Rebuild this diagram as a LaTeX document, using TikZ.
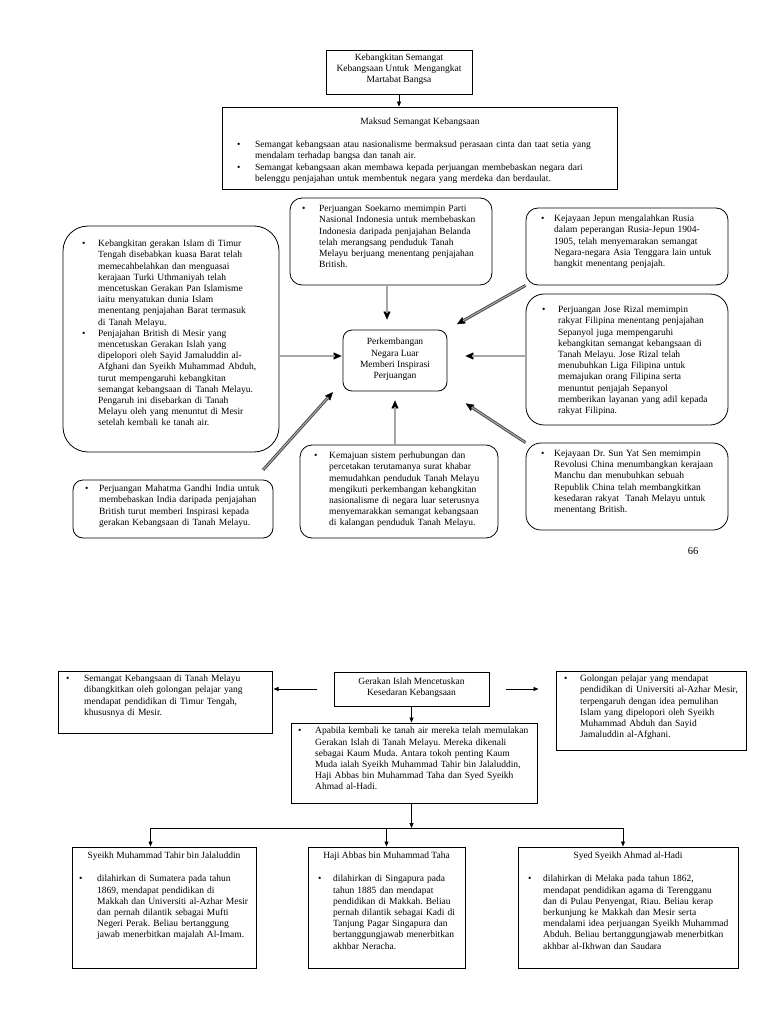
\documentclass[tikz,border=0pt]{standalone}
\usepackage{fontspec}
\setmainfont{Liberation Serif}
\usetikzlibrary{arrows.meta,calc}
\frenchspacing
\newcommand\fs{\fontsize{9.5pt}{11.2pt}\selectfont}
\newcommand\bu{\leavevmode\llap{\makebox[\leftskip][l]{\textbullet}}}
\tikzset{
  bx/.style={draw=black, line width=0.8pt, inner sep=0pt},
  bxb/.style={draw=black, line width=1pt, inner sep=0pt},
  bt/.style={anchor=north west, inner sep=0pt, text width=430pt, align=left, font=\fs},
  ct/.style={align=center, inner sep=0pt, font=\fs},
  dblshaft/.style={draw=black!75, line width=0.85pt, double=black!35, double distance=1.2pt},
  dbltip/.style={draw=black, line width=0.4pt, -{Triangle[length=8pt,width=7pt]}},
  thinarr/.style={draw=black, line width=0.8pt, -{Triangle[length=5pt,width=4pt]}},
}
% double arrow: start shorten, end shorten, shaft end shorten, from, to
\newcommand\dar[5]{%
  \draw[dbltip, shorten <=#1, shorten >=#2] #4 -- #5;
  \draw[dblshaft, shorten <=#1, shorten >=#3] #4 -- #5;}
\begin{document}
\begin{tikzpicture}[x=1pt, y=-1pt]
\fill[white] (0,0) rectangle (768,1024);
\useasboundingbox (0,0) rectangle (768,1024);

% ---------- top half ----------
\node[bx, minimum width=146pt, minimum height=44pt] (title) at (399,72) {};
\node[ct] (titlet) at (399,69) {Kebangkitan Semangat\\Kebangsaan Untuk~ Mengangkat\\Martabat Bangsa};

\node[bx, minimum width=395pt, minimum height=82pt] (maksud) at (419.5,148) {};
\node[ct] (maksudh) at (420,122) {Maksud Semangat Kebangsaan};
\node[bt] (maksudt) at (237,141) {\leftskip=18pt \bu Semangat kebangsaan atau nasionalisme bermaksud perasaan cinta dan taat setia yang\\mendalam terhadap bangsa dan tanah air.\\ \bu Semangat kebangsaan akan membawa kepada perjuangan membebaskan negara dari\\belenggu penjajahan untuk membentuk negara yang merdeka dan berdaulat.\par};

\node[bx, rounded corners=25pt, minimum width=216pt, minimum height=226pt] (lbox) at (171,339) {};
\node[bt] (lboxt) at (82,240) {\leftskip=16pt \bu Kebangkitan gerakan Islam di Timur\\Tengah disebabkan kuasa Barat telah\\memecahbelahkan dan menguasai\\kerajaan Turki Uthmaniyah telah\\mencetuskan Gerakan Pan Islamisme\\iaitu menyatukan dunia Islam\\menentang penjajahan Barat termasuk\\di Tanah Melayu.\\ \bu Penjajahan British di Mesir yang\\mencetuskan Gerakan Islah yang\\dipelopori oleh Sayid Jamaluddin al-\\Afghani dan Syeikh Muhammad Abduh,\\turut mempengaruhi kebangkitan\\semangat kebangsaan di Tanah Melayu.\\Pengaruh ini disebarkan di Tanah\\Melayu oleh yang menuntut di Mesir\\setelah kembali ke tanah air.\par};

\node[bx, rounded corners=12pt, minimum width=202pt, minimum height=87pt] (soek) at (391,241.5) {};
\node[bt] (soekt) at (302,205) {\leftskip=17pt \bu Perjuangan Soekarno memimpin Parti\\Nasional Indonesia untuk membebaskan\\Indonesia daripada penjajahan Belanda\\telah merangsang penduduk Tanah\\Melayu berjuang menentang penjajahan\\British.\par};

\node[bx, rounded corners=12pt, minimum width=202pt, minimum height=77pt] (jep) at (627,246.5) {};
\node[bt] (jept) at (541,215) {\leftskip=13pt \bu Kejayaan Jepun mengalahkan Rusia\\dalam peperangan Rusia-Jepun 1904-\\1905, telah menyemarakan semangat\\Negara-negara Asia Tenggara lain untuk\\bangkit menentang penjajah.\par};

\node[bx, rounded corners=18pt, minimum width=202pt, minimum height=131pt] (jose) at (627,359.5) {};
\node[bt] (joset) at (542,306) {\leftskip=16pt \bu Perjuangan Jose Rizal memimpin\\rakyat Filipina menentang penjajahan\\Sepanyol juga mempengaruhi\\kebangkitan semangat kebangsaan di\\Tanah Melayu. Jose Rizal telah\\menubuhkan Liga Filipina untuk\\memajukan orang Filipina serta\\menuntut penjajah Sepanyol\\memberikan layanan yang adil kepada\\rakyat Filipina.\par};

\node[bx, rounded corners=9pt, minimum width=104pt, minimum height=61pt] (cen) at (395,360.5) {};
\node[ct] (cent) at (395,359.5) {Perkembangan\\Negara Luar\\Memberi Inspirasi\\Perjuangan};

\node[bx, rounded corners=10pt, minimum width=200pt, minimum height=58pt] (gan) at (173,509) {};
\node[bt] (gant) at (85,485) {\leftskip=14pt \bu Perjuangan Mahatma Gandhi India untuk\\membebaskan India daripada penjajahan\\British turut memberi Inspirasi kepada\\gerakan Kebangsaan di Tanah Melayu.\par};

\node[bx, rounded corners=12pt, minimum width=198pt, minimum height=93pt] (kem) at (399,491.5) {};
\node[bt] (kemt) at (314,452) {\leftskip=15pt \bu Kemajuan sistem perhubungan dan\\percetakan terutamanya surat khabar\\memudahkan penduduk Tanah Melayu\\mengikuti perkembangan kebangkitan\\nasionalisme di negara luar seterusnya\\menyemarakkan semangat kebangsaan\\di kalangan penduduk Tanah Melayu.\par};

\node[bx, rounded corners=15pt, minimum width=202pt, minimum height=87pt] (sun) at (627,486.5) {};
\node[bt] (sunt) at (541,450) {\leftskip=13pt \bu Kejayaan Dr. Sun Yat Sen memimpin\\Revolusi China menumbangkan kerajaan\\Manchu dan menubuhkan sebuah\\Republik China telah membangkitkan\\kesedaran rakyat~ Tanah Melayu untuk\\menentang British.\par};

\node[font=\fontsize{10.5pt}{12pt}\selectfont, inner sep=0pt] (pg) at (693,551) {66};

% top connectors
\draw[thinarr] (title.south) -- (maksud.north -| title.south);
\dar{0pt}{10pt}{17pt}{([xshift=-4pt]soek.south)}{([xshift=-8pt]cen.north)}
\dar{0pt}{1pt}{8pt}{(lbox.east |- 0,356)}{([yshift=4.5pt]cen.west)}
\dar{0pt}{18pt}{25pt}{(jose.west |- 0,356)}{([yshift=4.5pt]cen.east)}
\dar{0pt}{11pt}{18pt}{(jep.south west)}{(cen.north east)}
\dar{13pt}{1pt}{8pt}{([xshift=-19pt]gan.north east)}{([xshift=-9pt]cen.south west)}
\dar{0pt}{9pt}{16pt}{(kem.north -| cen.south)}{(cen.south)}
\dar{0pt}{22pt}{29pt}{(sun.north west)}{(cen.south east)}

% ---------- bottom half ----------
\node[bxb, minimum width=155pt, minimum height=34pt] (ger) at (411.5,689) {};
\node[ct] (gert) at (411.5,688) {Gerakan Islah Mencetuskan\\Kesedaran Kebangsaan};

\node[bxb, minimum width=214pt, minimum height=62pt] (lbb) at (165,702) {};
\node[bt] (lbbt) at (66,675) {\leftskip=18pt \bu Semangat Kebangsaan di Tanah Melayu\\dibangkitkan oleh golongan pelajar yang\\mendapat pendidikan di Timur Tengah,\\khususnya di Mesir.\par};

\node[bxb, minimum width=190pt, minimum height=79pt] (rbb) at (651,710.5) {};
\node[bt] (rbbt) at (564,675) {\leftskip=16pt \bu Golongan pelajar yang mendapat\\pendidikan di Universiti al-Azhar Mesir,\\terpengaruh dengan idea pemulihan\\Islam yang dipelopori oleh Syeikh\\Muhammad Abduh dan Sayid\\Jamaluddin al-Afghani.\par};

\node[bxb, minimum width=246pt, minimum height=80pt] (apa) at (414,763) {};
\node[bt] (apat) at (298,727) {\leftskip=17pt \bu Apabila kembali ke tanah air mereka telah memulakan\\Gerakan Islah di Tanah Melayu. Mereka dikenali\\sebagai Kaum Muda. Antara tokoh penting Kaum\\Muda ialah Syeikh Muhammad Tahir bin Jalaluddin,\\Haji Abbas bin Muhammad Taha dan Syed Syeikh\\Ahmad al-Hadi.\par};

\node[bxb, minimum width=184pt, minimum height=121pt] (b1) at (164,907.5) {};
\node[ct] (b1h) at (164,856) {Syeikh Muhammad Tahir bin Jalaluddin};
\node[bt] (b1t) at (79,875) {\leftskip=18pt \bu dilahirkan di Sumatera pada tahun\\1869, mendapat pendidikan di\\Makkah dan Universiti al-Azhar Mesir\\dan pernah dilantik sebagai Mufti\\Negeri Perak. Beliau bertanggung\\jawab menerbitkan majalah Al-Imam.\par};

\node[bxb, minimum width=157pt, minimum height=121pt] (b2) at (386.5,907.5) {};
\node[ct] (b2h) at (386.5,856) {Haji Abbas bin Muhammad Taha};
\node[bt] (b2t) at (318,875) {\leftskip=15pt \bu dilahirkan di Singapura pada\\tahun 1885 dan mendapat\\pendidikan di Makkah. Beliau\\pernah dilantik sebagai Kadi di\\Tanjung Pagar Singapura dan\\bertanggungjawab menerbitkan\\akhbar Neracha.\par};

\node[bxb, minimum width=220pt, minimum height=121pt] (b3) at (628,907.5) {};
\node[ct] (b3h) at (628,856) {Syed Syeikh Ahmad al-Hadi};
\node[bt] (b3t) at (528,875) {\leftskip=15pt \bu dilahirkan di Melaka pada tahun 1862,\\mendapat pendidikan agama di Terengganu\\dan di Pulau Penyengat, Riau. Beliau kerap\\berkunjung ke Makkah dan Mesir serta\\mendalami idea perjuangan Syeikh Muhammad\\Abduh. Beliau bertanggungjawab menerbitkan\\akhbar al-Ikhwan dan Saudara\par};

% bottom connectors
\coordinate (hl) at (0,828);
\draw[thinarr, shorten <=17pt, shorten >=1pt] (ger.west) -- (lbb.east |- ger.west);
\draw[thinarr, shorten <=16pt, shorten >=17pt] (ger.east) -- (rbb.west |- ger.east);
\draw[thinarr] (ger.south) -- (ger.south |- apa.north);
\draw[thinarr] (ger.south |- apa.south) -- (ger.south |- hl);
\draw[line width=0.8pt] ([xshift=-13.5pt]b1.north |- hl) -- ([xshift=-5pt]b3.north |- hl);
\draw[thinarr] ([xshift=-13.5pt]b1.north |- hl) -- ([xshift=-13.5pt]b1.north);
\draw[thinarr] (b2.north |- hl) -- (b2.north);
\draw[thinarr] ([xshift=-5pt]b3.north |- hl) -- ([xshift=-5pt]b3.north);
\end{tikzpicture}
\end{document}
